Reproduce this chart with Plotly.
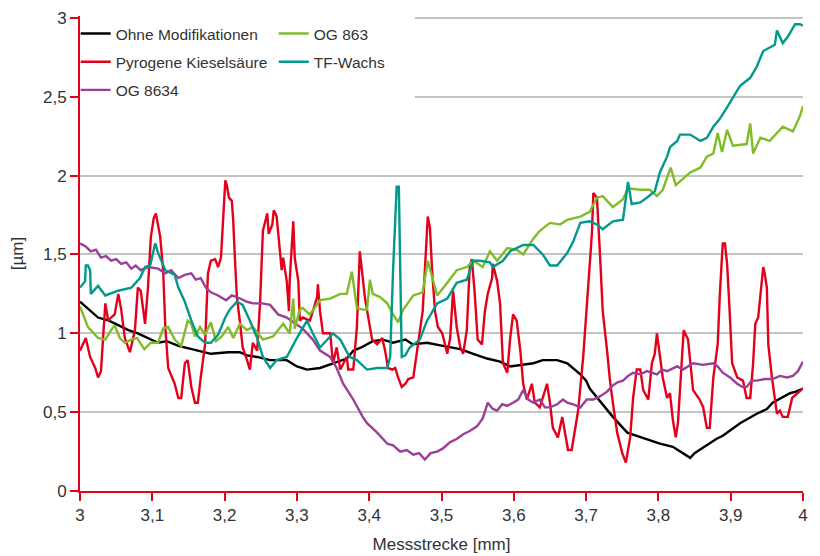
import plotly.graph_objects as go

# ---------------- data ----------------
series_names = ["Ohne Modifikationen", "Pyrogene Kieselsäure", "OG 8634", "OG 863", "TF-Wachs"]
series_colors = ["#000000", "#e3001b", "#9b3f97", "#80bc27", "#00998a"]

ohne_x = [3.000, 3.012, 3.025, 3.040, 3.053, 3.067, 3.080, 3.095, 3.108, 3.120, 3.136, 3.163, 3.181,
          3.205, 3.221, 3.231, 3.245, 3.263, 3.286, 3.300, 3.314, 3.332, 3.350, 3.369, 3.378, 3.389,
          3.405, 3.419, 3.433, 3.450, 3.460, 3.480, 3.502, 3.526, 3.544, 3.563, 3.581, 3.595, 3.627,
          3.640, 3.660, 3.674, 3.692, 3.700, 3.705, 3.719, 3.737, 3.757, 3.775, 3.788, 3.802, 3.820,
          3.830, 3.844, 3.850, 3.867, 3.880, 3.889, 3.913, 3.936, 3.950, 3.958, 3.982, 3.990, 4.000]
ohne_y = [1.20, 1.15, 1.10, 1.08, 1.05, 1.02, 1.00, 0.97, 0.94, 0.95, 0.92, 0.89, 0.87,
          0.88, 0.88, 0.86, 0.85, 0.83, 0.83, 0.79, 0.77, 0.78, 0.81, 0.84, 0.89, 0.91,
          0.95, 0.96, 0.94, 0.96, 0.93, 0.94, 0.92, 0.90, 0.87, 0.84, 0.82, 0.79, 0.81,
          0.83, 0.83, 0.81, 0.74, 0.70, 0.65, 0.57, 0.47, 0.37, 0.34, 0.32, 0.30, 0.28,
          0.25, 0.21, 0.24, 0.29, 0.33, 0.35, 0.43, 0.49, 0.52, 0.56, 0.62, 0.63, 0.65]

pyro_x = [3.000, 3.004, 3.008, 3.014, 3.021, 3.025, 3.029, 3.035, 3.039, 3.043, 3.048, 3.053, 3.057,
          3.062, 3.069, 3.076, 3.080, 3.084, 3.090, 3.094, 3.098, 3.102, 3.105, 3.111, 3.115, 3.118,
          3.122, 3.131, 3.136, 3.140, 3.145, 3.149, 3.154, 3.159, 3.163, 3.167, 3.173, 3.177, 3.181,
          3.187, 3.191, 3.195, 3.198, 3.201, 3.203, 3.206, 3.210, 3.212, 3.214, 3.217, 3.221, 3.225,
          3.231, 3.235, 3.239, 3.245, 3.249, 3.252, 3.253, 3.259, 3.261, 3.266, 3.268, 3.272, 3.277,
          3.279, 3.281, 3.286, 3.289, 3.290, 3.295, 3.297, 3.302, 3.304, 3.308, 3.318, 3.328, 3.329,
          3.332, 3.336, 3.346, 3.350, 3.355, 3.360, 3.369, 3.371, 3.378, 3.383, 3.387, 3.391, 3.394,
          3.398, 3.404, 3.411, 3.418, 3.422, 3.426, 3.432, 3.436, 3.440, 3.445, 3.450, 3.454, 3.461,
          3.466, 3.470, 3.474, 3.477, 3.481, 3.484, 3.487, 3.491, 3.495, 3.501, 3.508, 3.512, 3.516,
          3.521, 3.526, 3.530, 3.535, 3.539, 3.542, 3.546, 3.550, 3.556, 3.560, 3.564, 3.570, 3.571,
          3.577, 3.581, 3.585, 3.591, 3.595, 3.599, 3.604, 3.609, 3.613, 3.618, 3.625, 3.629, 3.636,
          3.646, 3.650, 3.654, 3.661, 3.667, 3.671, 3.675, 3.680, 3.685, 3.689, 3.696, 3.703, 3.708,
          3.710, 3.715, 3.719, 3.723, 3.729, 3.733, 3.737, 3.743, 3.750, 3.755, 3.761, 3.765, 3.770,
          3.775, 3.779, 3.786, 3.791, 3.795, 3.798, 3.802, 3.806, 3.812, 3.816, 3.820, 3.824, 3.827,
          3.833, 3.835, 3.841, 3.844, 3.848, 3.857, 3.862, 3.867, 3.871, 3.876, 3.882, 3.885, 3.889,
          3.892, 3.895, 3.898, 3.902, 3.909, 3.917, 3.922, 3.927, 3.931, 3.934, 3.938, 3.941, 3.945,
          3.947, 3.950, 3.952, 3.957, 3.964, 3.968, 3.972, 3.979, 3.985, 3.992, 4.000]
pyro_y = [0.89, 0.93, 0.97, 0.85, 0.78, 0.72, 0.76, 1.19, 1.08, 1.10, 1.12, 1.25, 1.15,
          0.97, 0.88, 1.02, 1.29, 1.27, 1.06, 1.29, 1.61, 1.73, 1.76, 1.61, 1.40, 1.04,
          0.78, 0.68, 0.59, 0.59, 0.81, 0.83, 0.66, 0.56, 0.56, 0.72, 0.93, 1.38, 1.46,
          1.47, 1.42, 1.48, 1.76, 1.97, 1.94, 1.86, 1.84, 1.71, 1.50, 1.23, 1.08, 0.91,
          0.83, 0.77, 0.94, 0.89, 1.19, 1.50, 1.65, 1.76, 1.63, 1.69, 1.78, 1.74, 1.48,
          1.40, 1.48, 1.33, 1.14, 1.33, 1.71, 1.48, 1.33, 1.08, 1.10, 1.08, 1.23, 1.31,
          1.14, 1.00, 1.00, 0.81, 0.91, 0.77, 0.85, 0.77, 0.77, 1.04, 1.52, 1.35, 1.23,
          1.12, 0.96, 0.93, 0.97, 0.89, 0.78, 0.77, 0.78, 0.72, 0.66, 0.68, 0.71, 0.72,
          0.89, 1.02, 1.14, 1.40, 1.74, 1.67, 1.40, 1.14, 1.04, 1.00, 0.87, 0.97, 1.27,
          1.04, 0.91, 0.87, 1.02, 1.42, 1.47, 1.25, 0.96, 0.93, 1.14, 1.25, 1.35, 1.44,
          1.33, 1.19, 0.81, 0.75, 0.97, 1.12, 1.08, 0.89, 0.68, 0.58, 0.68, 0.56, 0.53,
          0.68, 0.56, 0.40, 0.34, 0.47, 0.37, 0.26, 0.26, 0.40, 0.51, 0.85, 1.31, 1.63,
          1.89, 1.86, 1.52, 1.14, 0.89, 0.70, 0.56, 0.37, 0.24, 0.18, 0.34, 0.59, 0.77,
          0.77, 0.64, 0.58, 0.81, 0.87, 1.00, 0.87, 0.72, 0.59, 0.62, 0.45, 0.34, 0.43,
          0.87, 1.02, 0.96, 0.83, 0.64, 0.58, 0.53, 0.40, 0.40, 0.72, 0.93, 1.25, 1.57,
          1.57, 1.44, 1.19, 0.81, 0.72, 0.70, 0.59, 0.59, 0.81, 1.06, 1.10, 1.25, 1.42,
          1.38, 1.29, 0.93, 0.72, 0.49, 0.51, 0.47, 0.47, 0.59, 0.62, 0.65]

og8634_x = [3.000, 3.008, 3.015, 3.022, 3.029, 3.036, 3.043, 3.050, 3.057, 3.064, 3.071, 3.077, 3.084,
            3.094, 3.108, 3.118, 3.126, 3.136, 3.145, 3.154, 3.160, 3.167, 3.174, 3.181, 3.191, 3.202,
            3.210, 3.217, 3.231, 3.239, 3.252, 3.263, 3.274, 3.286, 3.295, 3.308, 3.322, 3.332, 3.346,
            3.355, 3.364, 3.378, 3.391, 3.397, 3.411, 3.425, 3.433, 3.443, 3.452, 3.461, 3.469, 3.477,
            3.485, 3.494, 3.502, 3.512, 3.521, 3.530, 3.539, 3.549, 3.557, 3.564, 3.571, 3.577, 3.584,
            3.591, 3.599, 3.606, 3.613, 3.620, 3.627, 3.636, 3.643, 3.650, 3.660, 3.668, 3.674, 3.682,
            3.692, 3.701, 3.710, 3.719, 3.729, 3.737, 3.744, 3.751, 3.758, 3.765, 3.775, 3.784, 3.798,
            3.805, 3.812, 3.826, 3.834, 3.848, 3.862, 3.876, 3.882, 3.889, 3.899, 3.909, 3.916, 3.922,
            3.929, 3.936, 3.947, 3.958, 3.968, 3.978, 3.986, 3.993, 4.000]
og8634_y = [1.57, 1.55, 1.52, 1.53, 1.48, 1.49, 1.46, 1.47, 1.44, 1.45, 1.41, 1.43, 1.40,
            1.42, 1.41, 1.38, 1.40, 1.35, 1.37, 1.38, 1.34, 1.35, 1.29, 1.26, 1.24, 1.21,
            1.24, 1.23, 1.20, 1.19, 1.19, 1.18, 1.12, 1.10, 1.07, 1.03, 0.96, 0.89, 0.85,
            0.78, 0.68, 0.58, 0.47, 0.43, 0.37, 0.30, 0.29, 0.25, 0.26, 0.23, 0.24, 0.20,
            0.24, 0.25, 0.27, 0.31, 0.33, 0.36, 0.38, 0.41, 0.46, 0.56, 0.52, 0.51, 0.55,
            0.54, 0.56, 0.58, 0.64, 0.58, 0.56, 0.58, 0.53, 0.53, 0.55, 0.58, 0.56, 0.55,
            0.53, 0.58, 0.58, 0.60, 0.63, 0.67, 0.69, 0.70, 0.73, 0.75, 0.74, 0.76, 0.74,
            0.77, 0.76, 0.79, 0.77, 0.81, 0.80, 0.81, 0.79, 0.75, 0.72, 0.68, 0.66, 0.66,
            0.70, 0.70, 0.71, 0.71, 0.73, 0.72, 0.73, 0.76, 0.82]

og863_x = [3.000, 3.011, 3.025, 3.035, 3.043, 3.048, 3.055, 3.062, 3.071, 3.079, 3.089, 3.098, 3.108,
           3.115, 3.122, 3.131, 3.140, 3.149, 3.154, 3.159, 3.166, 3.173, 3.181, 3.188, 3.196, 3.205,
           3.212, 3.221, 3.231, 3.239, 3.253, 3.267, 3.281, 3.290, 3.295, 3.297, 3.304, 3.308, 3.318,
           3.332, 3.346, 3.360, 3.369, 3.376, 3.383, 3.391, 3.397, 3.401, 3.405, 3.415, 3.425, 3.433,
           3.440, 3.447, 3.461, 3.474, 3.481, 3.488, 3.494, 3.508, 3.521, 3.535, 3.544, 3.557, 3.567,
           3.577, 3.591, 3.604, 3.613, 3.627, 3.636, 3.650, 3.664, 3.674, 3.692, 3.705, 3.715, 3.723,
           3.737, 3.751, 3.758, 3.775, 3.788, 3.798, 3.806, 3.817, 3.824, 3.844, 3.858, 3.867, 3.876,
           3.882, 3.888, 3.895, 3.903, 3.922, 3.927, 3.931, 3.941, 3.954, 3.972, 3.986, 3.996, 4.000]
og863_y = [1.17, 1.04, 0.97, 0.96, 1.02, 1.05, 0.97, 0.94, 0.96, 0.97, 0.90, 0.94, 0.94,
           1.03, 1.04, 0.96, 0.92, 1.08, 1.06, 0.98, 1.04, 0.99, 1.07, 0.95, 0.98, 1.04,
           0.97, 1.06, 1.02, 1.04, 0.96, 0.98, 1.06, 1.00, 1.22, 1.03, 1.15, 1.16, 1.12,
           1.21, 1.22, 1.25, 1.25, 1.39, 1.16, 1.15, 1.15, 1.34, 1.25, 1.23, 1.19, 1.12,
           1.07, 1.15, 1.24, 1.26, 1.46, 1.35, 1.24, 1.32, 1.40, 1.42, 1.46, 1.42, 1.52,
           1.46, 1.54, 1.53, 1.50, 1.60, 1.65, 1.70, 1.69, 1.72, 1.74, 1.77, 1.86, 1.87,
           1.80, 1.85, 1.92, 1.91, 1.91, 1.87, 1.91, 2.05, 1.94, 2.02, 2.05, 2.12, 2.14,
           2.27, 2.15, 2.29, 2.19, 2.20, 2.33, 2.14, 2.24, 2.22, 2.31, 2.28, 2.38, 2.44]

tf_x = [3.000, 3.007, 3.008, 3.011, 3.014, 3.015, 3.025, 3.035, 3.053, 3.071, 3.083, 3.090, 3.097,
        3.104, 3.108, 3.118, 3.131, 3.136, 3.145, 3.154, 3.163, 3.173, 3.181, 3.191, 3.201, 3.207,
        3.217, 3.225, 3.235, 3.245, 3.253, 3.263, 3.272, 3.286, 3.300, 3.314, 3.322, 3.332, 3.350,
        3.360, 3.373, 3.383, 3.397, 3.411, 3.425, 3.429, 3.433, 3.436, 3.438, 3.441, 3.443, 3.445,
        3.450, 3.456, 3.470, 3.480, 3.494, 3.508, 3.521, 3.535, 3.544, 3.553, 3.567, 3.571, 3.585,
        3.595, 3.613, 3.627, 3.640, 3.650, 3.660, 3.674, 3.682, 3.692, 3.705, 3.715, 3.723, 3.737,
        3.751, 3.758, 3.763, 3.775, 3.784, 3.795, 3.802, 3.812, 3.816, 3.826, 3.830, 3.844, 3.858,
        3.867, 3.876, 3.885, 3.896, 3.906, 3.913, 3.927, 3.936, 3.945, 3.954, 3.961, 3.964, 3.972,
        3.979, 3.989, 3.996, 4.000]
tf_y = [1.29, 1.33, 1.43, 1.43, 1.40, 1.25, 1.30, 1.24, 1.27, 1.29, 1.35, 1.42, 1.43,
        1.57, 1.51, 1.40, 1.37, 1.29, 1.20, 1.08, 0.98, 0.94, 0.94, 0.99, 1.10, 1.15,
        1.20, 1.18, 1.08, 0.97, 0.85, 0.78, 0.83, 0.85, 0.97, 1.08, 1.00, 0.91, 1.00,
        0.96, 0.85, 0.83, 0.77, 0.78, 0.78, 0.85, 1.40, 1.73, 1.93, 1.93, 1.40, 0.85,
        0.86, 0.91, 0.96, 1.08, 1.19, 1.22, 1.32, 1.34, 1.46, 1.46, 1.45, 1.42, 1.46,
        1.52, 1.56, 1.56, 1.50, 1.43, 1.43, 1.51, 1.58, 1.70, 1.71, 1.69, 1.66, 1.71,
        1.72, 1.96, 1.82, 1.83, 1.86, 1.90, 2.02, 2.12, 2.18, 2.22, 2.26, 2.26, 2.22,
        2.24, 2.31, 2.36, 2.44, 2.52, 2.57, 2.62, 2.69, 2.79, 2.81, 2.83, 2.92, 2.84,
        2.88, 2.96, 2.96, 2.95]

x_tick_vals = [3.0, 3.1, 3.2, 3.3, 3.4, 3.5, 3.6, 3.7, 3.8, 3.9, 4.0]
y_tick_vals = [0, 0.5, 1, 1.5, 2, 2.5, 3]

# ---------------- figure ----------------
AXIS_RED = "#e3001b"
TEXT = "#333333"
FONT = "Liberation Sans, Arial, sans-serif"

series_x = [ohne_x, pyro_x, og8634_x, og863_x, tf_x]
series_y = [ohne_y, pyro_y, og8634_y, og863_y, tf_y]
legend_ids = ["legend", "legend", "legend", "legend2", "legend2"]

fig = go.Figure()
for name, color, xs, ys, lg in zip(series_names, series_colors, series_x, series_y, legend_ids):
    fig.add_trace(go.Scatter(
        x=xs, y=ys, mode="lines", name=name,
        line=dict(color=color, width=2.4),
        legend=lg, legendgroup=name,
    ))

legend_common = dict(
    bgcolor="rgba(255,255,255,0)", borderwidth=0,
    font=dict(family=FONT, size=15.5, color=TEXT),
    orientation="v", traceorder="grouped", tracegroupgap=5,
    xanchor="left", yanchor="top",
)

# The page body has an 8px default margin, so the figure is sized to fill the
# 820x556 window from (8, 8).
fig.update_layout(
    width=812, height=548,
    margin=dict(l=72, r=17, t=8, b=65),
    paper_bgcolor="white", plot_bgcolor="white",
    separators=", ",
    font=dict(family=FONT, size=17, color=TEXT),
    showlegend=True,
    legend=dict(x=-0.006, y=0.998, **legend_common),
    legend2=dict(x=0.268, y=0.998, **legend_common),
    xaxis=dict(
        range=[3, 4], tickvals=x_tick_vals, showgrid=False, zeroline=False, automargin=False,
        showline=True, linecolor=AXIS_RED, linewidth=2,
        ticks="outside", ticklen=8, tickwidth=2, tickcolor=AXIS_RED,
        tickfont=dict(family=FONT, size=17, color=TEXT),
        title=dict(text="Messstrecke [mm]", font=dict(family=FONT, size=17, color=TEXT), standoff=14),
    ),
    yaxis=dict(
        range=[0, 3.012], tickvals=y_tick_vals, showgrid=True, gridcolor="#c4c4c4", gridwidth=1.5,
        zeroline=False, showline=True, linecolor=AXIS_RED, linewidth=2, automargin=False,
        ticks="outside", ticklen=8, tickwidth=2, tickcolor=AXIS_RED,
        tickfont=dict(family=FONT, size=17, color=TEXT),
        title=dict(text="[µm]", font=dict(family=FONT, size=17, color=TEXT), standoff=16),
    ),
    shapes=[dict(
        type="rect", xref="x", yref="y", x0=3.0, x1=3.463, y0=2.42, y1=3.012,
        fillcolor="white", line=dict(width=0), layer="between",
    )],
)

fig.write_html("out.html")
